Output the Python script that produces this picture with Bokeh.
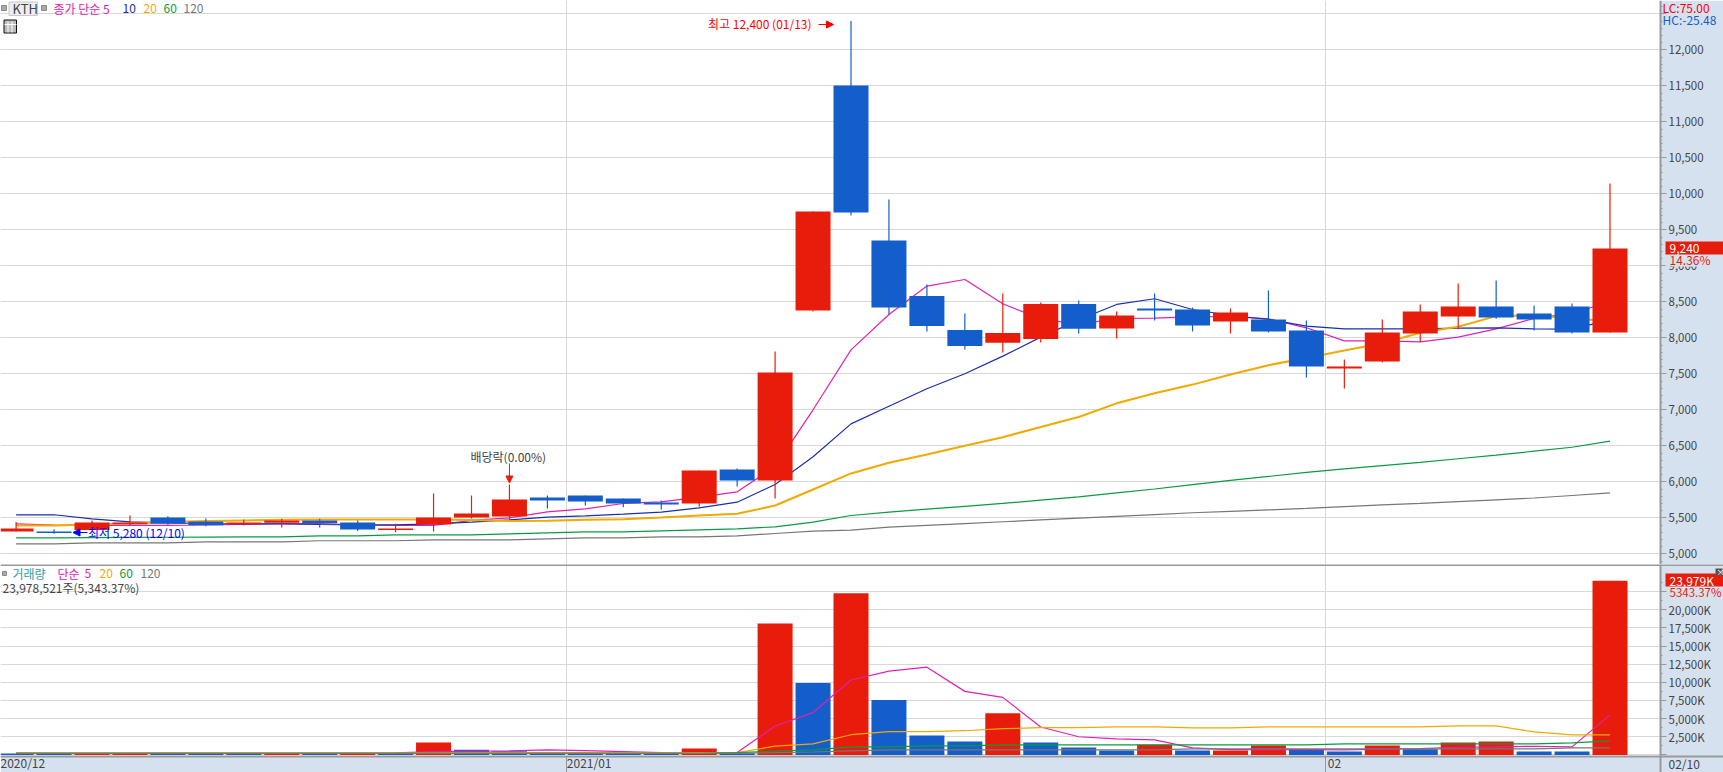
from bokeh.plotting import figure
from bokeh.layouts import column
from bokeh.models import (Label, Arrow, NormalHead, FixedTicker, SingleIntervalTicker,
                          NumeralTickFormatter, Range1d, BoxAnnotation)
from bokeh.embed import file_html
from bokeh.resources import INLINE

# ---------- data ----------
opens = [5310,5310,5329,5412,5505,5449,5412,5430,5463,5435,5329,5407,5505,5518,5782,5810,5768,5713,5699,6171,
         6018,8380,11505,9352,8580,8110,7930,7985,8470,8130,8407,8393,8227,8255,8102,7574,7671,8060,8296,8435,
         8338,8435,8074]
closes = [5352,5290,5435,5435,5417,5398,5435,5463,5426,5338,5352,5505,5560,5755,5741,5727,5699,5685,6157,6018,
          7518,9755,9741,8421,8165,7885,8065,8470,8125,8310,8380,8171,8352,8088,7602,7602,8074,8366,8435,8282,
          8255,8074,9240]
highs = [5440,5340,5463,5532,5520,5491,5477,5486,5486,5463,5417,5838,5810,5963,5810,5810,5768,5741,6157,6185,
         7810,9755,12400,9921,8741,8338,8616,8491,8518,8366,8616,8421,8407,8657,8241,7699,8255,8463,8755,8796,
         8449,8477,10143]
lows = [5310,5280,5329,5394,5405,5384,5394,5366,5366,5315,5301,5310,5490,5486,5630,5671,5648,5616,5653,5935,
        5768,8366,9699,8324,8088,7838,7796,7935,8060,7991,8241,8088,8060,8074,7449,7296,7657,7940,8120,8264,
        8102,8060,8074]
ma5 = [5417,5400,5395,5394,5394,5400,5410,5420,5420,5400,5395,5395,5463,5500,5583,5625,5699,5722,5787,5861,
       6210,7000,7833,8324,8718,8810,8472,8264,8185,8270,8273,8290,8296,8264,8139,7958,7958,7944,8009,8125,
       8268,8338,8500]
ma10 = [5542,5542,5486,5444,5430,5421,5417,5417,5407,5403,5403,5417,5440,5472,5509,5527,5551,5578,5639,5717,
        5963,6347,6805,7050,7292,7500,7745,8009,8250,8463,8542,8393,8310,8255,8162,8125,8125,8125,8134,8139,
        8125,8120,8250]
ma20 = [5394,5394,5407,5421,5440,5454,5463,5472,5477,5477,5477,5477,5468,5454,5458,5472,5481,5504,5532,5555,
        5671,5893,6116,6264,6380,6500,6620,6760,6900,7090,7230,7350,7490,7620,7720,7825,7925,8069,8153,8301,
        8310,8270,8230]
ma60 = [5222,5222,5225,5228,5230,5232,5234,5236,5250,5250,5264,5264,5264,5278,5292,5305,5305,5319,5333,5347,
        5375,5440,5532,5578,5620,5660,5700,5745,5790,5845,5900,5960,6020,6075,6130,6180,6225,6270,6320,6370,
        6425,6480,6564]
ma120 = [5139,5139,5153,5153,5153,5167,5167,5167,5181,5181,5181,5194,5194,5194,5208,5222,5222,5236,5236,5250,
         5282,5315,5328,5370,5395,5420,5445,5470,5495,5520,5545,5570,5590,5610,5630,5655,5680,5700,5725,5750,
         5775,5810,5847]

volume = [200,170,210,220,180,160,150,240,170,260,190,1710,700,510,330,250,220,140,880,230,
          18100,9910,22270,7550,2685,1850,5740,1713,1020,600,1390,602,602,1296,787,463,1296,787,1713,1852,
          463,463,23979]
vol_colors = list("bbrrbbbrbrbrbbbbbbrbrbrbbbrbbbrbrrbbrbrrbbr")
vma5 = [240,230,220,230,240,230,220,230,240,250,290,450,510,560,700,600,450,300,280,320,
        3980,5830,10320,11530,12080,8750,7920,3840,2500,2200,2065,964,734,734,734,690,780,870,1055,1100,
        1190,1100,5508]
vma20 = [290,290,290,290,290,290,290,290,290,290,290,290,300,300,300,300,290,280,320,320,
         1200,1530,2780,3195,3195,3330,3610,3750,3750,3855,3855,3718,3718,3855,3855,3855,3855,3855,3993,3993,
         3167,2754,2754]
vma60 = [230,230,230,230,230,230,230,230,230,230,230,230,230,230,230,230,230,230,230,300,
         510,695,1110,1110,1250,1250,1390,1390,1390,1377,1377,1377,1377,1377,1377,1515,1515,1515,1515,1515,
         1515,1652,1928]
vma120 = [220,220,220,220,220,220,220,220,220,220,220,220,220,220,220,220,220,220,220,230,
          300,400,555,695,695,695,695,695,695,690,690,826,826,826,826,826,826,826,826,826,
          826,964,964]

price_tick_step = 500
vol_ticks = [0,2500,5000,7500,10000,12500,15000,17500,20000,22500]
vol_tick_labels = ["","2,500K","5,000K","7,500K","10,000K","12,500K","15,000K","17,500K","20,000K",""]
month_bounds = [14.5,34.5]
month_label_pos = [0.14,15.1,34.74]
month_labels = ["2020/12","2021/01","02"]
last_date = "02/10"

# ---------- layout ----------
RED, BLUE = "#e81c0a", "#135ecb"
PINK, NAVY, ORANGE, GREEN, GREY = "#e020b4", "#1a2fae", "#f0aa00", "#0a9a40", "#777777"
PANEL, GRID, AXIS, TXT = "#d6e1f0", "#d8d8d8", "#999999", "#444444"
FONT = "Noto Sans CJK KR"
X0, DX = 15.6, 37.95
W_FRAME, W_ALL = 1660, 1723
MAIN_H, VOL_H = 564, 208
n = len(closes)
xs = list(range(n))
LW = 1.2
def px(p): return (p-X0)/DX
def pv(py): return 12000-(py-49.3)/0.072
def vv(py): return (754.4-(py))/0.00726
xr = Range1d(px(0), px(W_ALL))

def base(height, yr):
    f = figure(width=W_ALL, height=height, x_range=xr, y_range=yr, output_backend="svg",
               toolbar_location=None, y_axis_location="right", x_axis_location="below",
               min_border=0, background_fill_color="white", outline_line_color=None)
    f.ygrid.grid_line_color = GRID
    f.ygrid.grid_line_width = 1
    f.xgrid.grid_line_color = GRID
    f.xgrid.ticker = FixedTicker(ticks=month_bounds)
    ax = f.yaxis[0]
    ax.fixed_location = px(W_FRAME)
    ax.axis_line_color = AXIS
    ax.axis_line_width = 2
    ax.major_tick_line_color = AXIS
    ax.minor_tick_line_color = AXIS
    ax.major_tick_in = 0
    ax.minor_tick_in = 0
    ax.major_tick_out = 6
    ax.minor_tick_out = 2
    ax.major_label_standoff = 2
    ax.major_label_text_font = FONT
    ax.major_label_text_font_size = "11.5px"
    ax.major_label_text_color = TXT
    return f

def lab(f, x, y, text, color=TXT, size="12px", **kw):
    f.add_layout(Label(x=x, y=y, text=text, text_color=color, text_font=FONT, text_font_size=size,
                       text_baseline="middle", text_align="left", **kw))

def box(f, l, r, t, b, color):
    f.add_layout(BoxAnnotation(left=l, right=r, top=t, bottom=b, fill_color=color, fill_alpha=1,
                               line_color=None))

def lines(f, series, color_widths):
    for s, (c, w) in zip(series, color_widths):
        f.line(xs, s, line_color=c, line_width=w)

# ---------- price panel ----------
p = base(MAIN_H, Range1d(pv(MAIN_H), pv(0)))
p.xaxis.visible = False
p.quad(left=px(W_FRAME), right=px(W_ALL), top=pv(0), bottom=pv(MAIN_H), fill_color=PANEL, line_color=None)
p.yaxis[0].ticker = SingleIntervalTicker(interval=price_tick_step, num_minor_ticks=5)
p.yaxis[0].formatter = NumeralTickFormatter(format="0,0")
p.yaxis[0].major_label_overrides = {12500: ""}
lines(p, [ma5, ma10, ma20, ma60, ma120],
      [(PINK,LW),(NAVY,LW),(ORANGE,2),(GREEN,LW),(GREY,LW)])
colors = [RED if c >= o else BLUE for o, c in zip(opens, closes)]
p.segment(xs, lows, xs, highs, line_color=colors, line_width=LW)
p.vbar(xs, width=35/DX, top=[max(a,b) for a,b in zip(opens,closes)],
       bottom=[min(a,b) for a,b in zip(opens,closes)], fill_color=colors, line_color=None)

# legend of the price panel
for l, r in [(1,6),(41,46)]:
    p.quad(left=px(l), right=px(r), top=pv(5), bottom=pv(10), fill_color="#aaaaaa", line_color="#888888")
p.quad(left=px(8.5), right=px(37), top=pv(1.5), bottom=pv(15), fill_color="#eeeeee", line_color="#c8c8c8")
lab(p, px(12), pv(8), "KTH", size="13px")
lab(p, px(53), pv(8), "종가 단순 5", PINK)
lab(p, px(122), pv(8), "10", NAVY)
lab(p, px(143), pv(8), "20", ORANGE)
lab(p, px(163), pv(8), "60", GREEN)
lab(p, px(183), pv(8), "120", GREY)
# table icon
p.quad(left=px(3.5), right=px(16), top=pv(19.5), bottom=pv(32.5), fill_color="#bbbbbb", line_color="#111111")
p.segment([px(7.5),px(11.5),px(4)], [pv(21)]*2+[pv(24)], [px(7.5),px(11.5),px(16)], [pv(32)]*2+[pv(24)],
          line_color="white", line_width=1)

# annotations
lab(p, px(707.5), pv(23), "최고 12,400 (01/13)", "#ff0000")
p.add_layout(Arrow(end=NormalHead(size=7, fill_color="#ff0000", line_color="#ff0000"),
                   x_start=px(818), y_start=pv(24), x_end=px(833), y_end=pv(24),
                   line_color="#ff0000", line_width=1))
lab(p, px(470), pv(455.5), "배당락(0.00%)")
p.add_layout(Arrow(end=NormalHead(size=7, fill_color=RED, line_color=RED),
                   x_start=13, y_start=pv(463), x_end=13, y_end=pv(482.5),
                   line_color=RED, line_width=1))
lab(p, px(87.5), pv(531.5), "최저 5,280 (12/10)", "#0000ff")
p.add_layout(Arrow(end=NormalHead(size=7, fill_color="#0000ff", line_color="#0000ff"),
                   x_start=px(87), y_start=pv(532), x_end=px(72.5), y_end=pv(532),
                   line_color="#0000ff", line_width=1))
# right column texts
lab(p, px(1662), pv(7), "LC:75.00", "#ff0000")
lab(p, px(1662), pv(19), "HC:-25.48", "#135ecb")
box(p, px(1665), px(1712), pv(253), pv(266), PANEL)
box(p, px(1665), px(W_ALL), pv(241), pv(254), RED)
lab(p, px(1669), pv(247.5), "9,240", "white")
lab(p, px(1669), pv(259), "14.36%", RED)

# ---------- volume panel ----------
v = base(VOL_H, Range1d(vv(772), vv(564)))
v.quad(left=px(W_FRAME), right=px(W_ALL), top=vv(564), bottom=vv(772), fill_color=PANEL, line_color=None)
v.quad(left=px(0), right=px(W_ALL), top=vv(756), bottom=vv(772), fill_color=PANEL, line_color=None)
v.segment(px(0), vv(564.5), px(W_ALL), vv(564.5), line_color=AXIS, line_width=2)
ya = v.yaxis[0]
ya.ticker = FixedTicker(ticks=vol_ticks, minor_ticks=[t+1250 for t in vol_ticks])
ya.major_label_overrides = dict(zip(vol_ticks, vol_tick_labels))
xa = v.xaxis[0]
xa.fixed_location = vv(756)
xa.ticker = FixedTicker(ticks=month_label_pos, minor_ticks=month_bounds)
xa.major_label_overrides = dict(zip(month_label_pos, month_labels))
xa.major_tick_out = 0
xa.major_tick_in = 0
xa.minor_tick_in = 0
xa.minor_tick_out = 16
xa.minor_tick_line_color = AXIS
xa.axis_line_color = AXIS
xa.axis_line_width = 2
xa.major_label_standoff = -19
xa.major_label_text_font = FONT
xa.major_label_text_font_size = "12px"
xa.major_label_text_color = TXT

v.vbar(xs, width=35/DX, top=volume, bottom=0, line_color=None,
       fill_color=[RED if c == "r" else BLUE for c in vol_colors])
lines(v, [vma5, vma20, vma60, vma120], [(PINK,LW),(ORANGE,LW),(GREEN,LW),(GREY,LW)])

v.quad(left=px(2), right=px(6), top=vv(571), bottom=vv(575), fill_color="#aaaaaa", line_color="#888888")
lab(v, px(12), vv(572.5), "거래량", "#2f9d9d")
lab(v, px(57), vv(572.5), "단순", PINK)
lab(v, px(84), vv(572.5), "5", PINK)
lab(v, px(99), vv(572.5), "20", ORANGE)
lab(v, px(119), vv(572.5), "60", GREEN)
lab(v, px(140), vv(572.5), "120", GREY)
lab(v, px(2), vv(586.5), "23,978,521주(5,343.37%)")

box(v, px(1665), px(W_ALL), vv(573), vv(586), RED)
box(v, px(1715), px(1722), vv(568), vv(575), "#555555")
lab(v, px(1669), vv(579.5), "23,979K", "white")
lab(v, px(1669), vv(591), "5343.37%", RED, size="11.5px")
lab(v, px(1716), vv(571), "×", "white", size="8px")
lab(v, px(1668), vv(763), last_date)

root = column(p, v, spacing=0)
open("out.html", "w").write(file_html(root, INLINE))
